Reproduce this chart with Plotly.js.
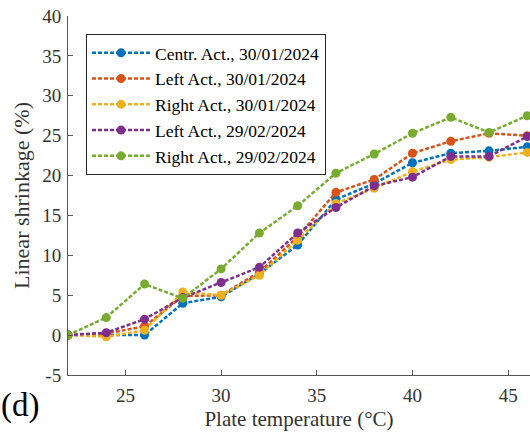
<!DOCTYPE html>
<html>
<head>
<meta charset="utf-8">
<script src="https://cdn.plot.ly/plotly-3.0.1.min.js"></script>
<style>html,body{margin:0;padding:0;background:#fff;}#chart{width:530px;height:437px;}</style>
</head>
<body>
<div id="chart"></div>
<script>
const temps = [22, 24, 26, 28, 30, 32, 34, 36, 38, 40, 42, 44, 46];
const centr30 = [0, 0, 0, 4.0, 4.8, 7.7, 11.3, 17.0, 19.0, 21.6, 22.8, 23.1, 23.6];
const left30 = [0, 0.2, 1.1, 4.9, 5.0, 7.9, 12.3, 17.9, 19.5, 22.8, 24.3, 25.3, 25.0];
const right30 = [0, -0.2, 0.6, 5.4, 5.0, 7.5, 11.9, 16.5, 18.4, 20.5, 22.0, 22.3, 22.9];
const left29 = [0, 0.3, 2.0, 4.7, 6.6, 8.5, 12.8, 16.0, 18.7, 19.8, 22.4, 22.4, 24.9];
const right29 = [0, 2.2, 6.4, 4.6, 8.3, 12.8, 16.2, 20.3, 22.7, 25.3, 27.3, 25.4, 27.5];
const names = ["Centr. Act., 30/01/2024", "Left Act., 30/01/2024", "Right Act., 30/01/2024", "Left Act., 29/02/2024", "Right Act., 29/02/2024"];
const series = [centr30, left30, right30, left29, right29];
const colors = ["#0072BD", "#D95319", "#EDB120", "#7E2F8E", "#77AC30"];
const xTicks = [25, 30, 35, 40, 45];
const yTicks = [-5, 0, 5, 10, 15, 20, 25, 30, 35, 40];
const yTickText = ["-5", "0", "5", "10", "15", "20", "25", "30", "35", "40"];

const font = "Liberation Serif";
const traces = series.map((s, i) => ({
  x: temps, y: s, name: names[i], type: "scatter", mode: "lines+markers",
  line: {color: colors[i], width: 2.5, dash: "4px,2px"},
  marker: {color: colors[i], size: 9, symbol: "circle"}
}));

const layout = {
  width: 530, height: 437,
  margin: {l: 68, r: 0, t: 16, b: 62},
  paper_bgcolor: "#fff", plot_bgcolor: "#fff",
  font: {family: font, size: 16, color: "#262626"},
  showlegend: true,
  legend: {
    x: 0.039, y: 0.95, xanchor: "left", yanchor: "top",
    bordercolor: "#262626", borderwidth: 1, bgcolor: "#fff",
    font: {family: font, size: 17.5, color: "#000"},
    itemwidth: 58,
    tracegroupgap: 0
  },
  xaxis: {
    range: [22, 46.14], tickvals: xTicks, ticks: "inside", ticklen: 5, tickcolor: "#555",
    ticklabelstandoff: 3,
    showline: true, linecolor: "#555", linewidth: 1, showgrid: false, zeroline: false,
    tickfont: {family: font, size: 19, color: "#333"},
    title: {text: "Plate temperature (°C)", font: {family: font, size: 21, color: "#333"}, standoff: 6}
  },
  yaxis: {
    range: [-5, 40], tickvals: yTicks, ticktext: yTickText, ticks: "inside", ticklen: 5, tickcolor: "#555",
    ticklabelstandoff: 2,
    showline: true, linecolor: "#555", linewidth: 1, showgrid: false, zeroline: false,
    tickfont: {family: font, size: 19, color: "#333"},
    title: {text: "Linear shrinkage (%)", font: {family: font, size: 22, color: "#333"}, standoff: 6}
  },
  annotations: [{
    text: "(d)", xref: "paper", yref: "paper", x: -0.15, y: -0.085,
    xanchor: "left", yanchor: "middle", showarrow: false,
    font: {family: font, size: 33, color: "#000"}
  }]
};

Plotly.newPlot("chart", traces, layout, {displayModeBar: false, staticPlot: true});
</script>
</body>
</html>
